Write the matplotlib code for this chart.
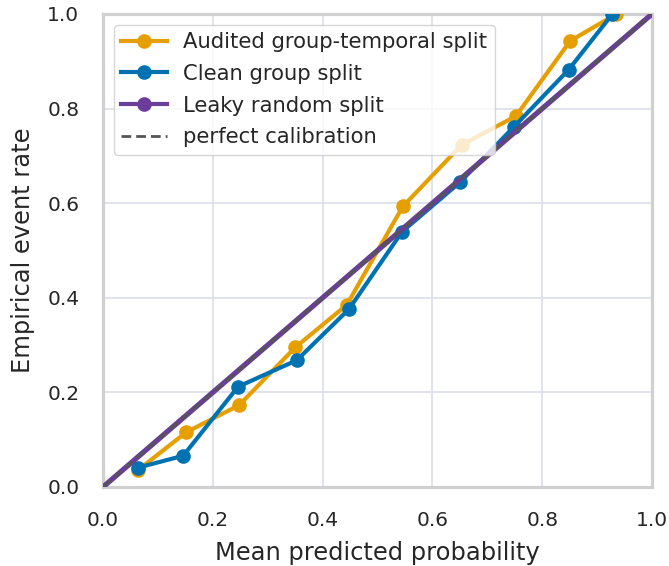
import numpy as np
import matplotlib
matplotlib.use("Agg")
import matplotlib.pyplot as plt
from matplotlib.lines import Line2D

# calibration curves
audited_x = [0.064, 0.152, 0.248, 0.350, 0.444, 0.546, 0.653, 0.752, 0.851, 0.935]
audited_y = [0.036, 0.116, 0.173, 0.295, 0.385, 0.593, 0.723, 0.784, 0.943, 1.0]

clean_x = [0.064, 0.146, 0.246, 0.353, 0.448, 0.545, 0.650, 0.749, 0.848, 0.928]
clean_y = [0.041, 0.066, 0.212, 0.268, 0.376, 0.540, 0.644, 0.762, 0.882, 1.0]

leaky_x = [0.0, 1.0]
leaky_y = [0.0, 1.0]

labels = ["Audited group-temporal split", "Clean group split",
          "Leaky random split", "perfect calibration"]
colors = ["#E69F00", "#0072B2", "#6A3D9A"]

fig = plt.figure(figsize=(6.69, 5.66), dpi=100)
ax = fig.add_axes([0.1540, 0.1396, 0.8206, 0.8357])

ax.plot(audited_x, audited_y, color=colors[0], lw=3, marker="o", ms=9.5, zorder=3)
ax.plot(clean_x, clean_y, color=colors[1], lw=3, marker="o", ms=9.5, zorder=4)
ax.plot(leaky_x, leaky_y, color=colors[2], lw=3.8, zorder=5)
ax.plot([0, 1], [0, 1], color="#555555", lw=2, ls="--", dashes=(3.5, 1.8), zorder=6)

ax.set_xlim(0, 1)
ax.set_ylim(0, 1)
ax.set_xticks(np.arange(0, 1.01, 0.2))
ax.set_yticks(np.arange(0, 1.01, 0.2))
ax.grid(True, color="#dde1ea", lw=1.3, zorder=0)
ax.set_axisbelow(True)
for s in ax.spines.values():
    s.set_color("#d0d0d0")
    s.set_linewidth(2.3)
ax.tick_params(length=0, labelsize=14.5, colors="#262626", pad=17)
ax.set_xlabel("Mean predicted probability", fontsize=17.4, color="#262626", labelpad=8)
ax.set_ylabel("Empirical event rate", fontsize=17.4, color="#262626", labelpad=9)

handles = [
    Line2D([], [], color=colors[0], lw=3, marker="o", ms=9.5),
    Line2D([], [], color=colors[1], lw=3, marker="o", ms=9.5),
    Line2D([], [], color=colors[2], lw=3, marker="o", ms=9.5),
    Line2D([], [], color="#555555", lw=2, ls="--", dashes=(3.5, 1.8)),
]
leg = ax.legend(handles, labels, loc="upper left", fontsize=15.2, framealpha=0.8,
                edgecolor="#cccccc", borderpad=0.35, labelspacing=0.56,
                handlelength=2.2, handletextpad=0.75, borderaxespad=0.5)
for t in leg.get_texts():
    t.set_color("#262626")
leg.set_zorder(10)

fig.savefig("out.png", dpi=100)
